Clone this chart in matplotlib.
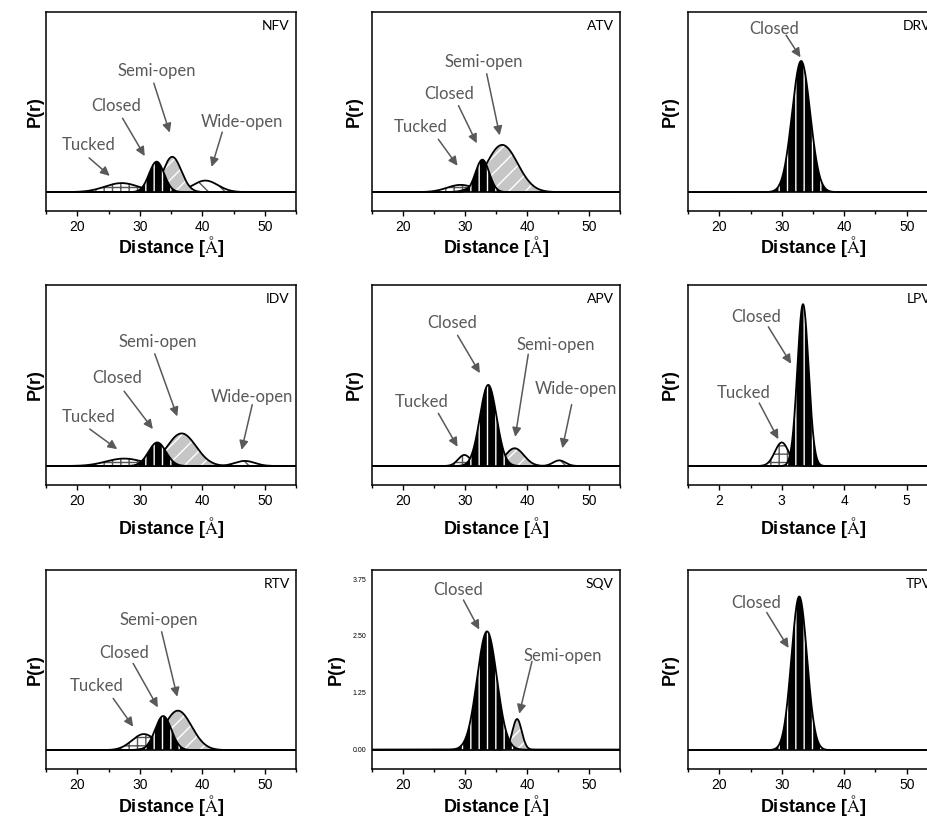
import numpy as np
import matplotlib.pyplot as plt
from matplotlib.ticker import MultipleLocator

plt.rcParams['font.family'] = ['Liberation Sans', 'DejaVu Sans']
plt.rcParams['mathtext.fontset'] = 'stix'
plt.rcParams['hatch.linewidth'] = 1.0

# one panel per inhibitor, row by row
drugs = ['NFV', 'ATV', 'DRV', 'IDV', 'APV', 'LPV', 'RTV', 'SQV', 'TPV']
states = ['Tucked', 'Closed', 'Semi-open', 'Wide-open']

# gaussian populations: centre, peak height, sigma (None = state not populated)
centres = [
    [27.1, 32.7, 35.2, 40.5],
    [29.3, 32.8, 36.0, None],
    [None, 33.1, None, None],
    [27.5, 32.8, 36.7, 46.8],
    [29.9, 33.75, 38.0, 45.2],
    [3.0, 3.34, None, None],
    [30.65, 33.75, 36.1, None],
    [None, 33.55, 38.4, None],
    [None, 32.8, None, None],
]
heights = [
    [0.05, 0.169, 0.196, 0.064],
    [0.04, 0.18, 0.262, None],
    [None, 0.728, None, None],
    [0.041, 0.13, 0.18, 0.028],
    [0.061, 0.448, 0.098, 0.031],
    [0.13, 0.894, None, None],
    [0.089, 0.189, 0.219, None],
    [None, 2.6, 0.674, None],
    [None, 0.853, None, None],
]
sigmas = [
    [2.7, 1.2, 1.45, 2.0],
    [2.2, 1.1, 2.5, None],
    [None, 1.45, None, None],
    [2.9, 1.4, 2.3, 1.6],
    [1.0, 1.35, 1.5, 1.0],
    [0.11, 0.09, None, None],
    [1.9, 1.3, 2.2, None],
    [None, 1.6, 0.75, None],
    [None, 1.25, None, None],
]

# SQV is the only panel with a labelled P(r) axis
sqv_yticks = [0.0, 1.25, 2.50, 3.75]

# callouts: (text, text centre, arrow tail, arrow head) in data coordinates
callouts = [
    [('Tucked', (21.8, 0.26), (21.9, 0.19), (25.2, 0.09)),
     ('Closed', (26.3, 0.477), (27.25, 0.41), (30.8, 0.20)),
     ('Semi-open', (32.7, 0.67), (32.25, 0.605), (34.8, 0.33)),
     ('Wide-open', (46.3, 0.39), (43.2, 0.333), (41.5, 0.14))],
    [('Tucked', (22.9, 0.363), (25.7, 0.293), (28.8, 0.146)),
     ('Closed', (27.4, 0.545), (28.95, 0.48), (31.9, 0.271)),
     ('Semi-open', (33.1, 0.724), (33.5, 0.657), (35.6, 0.315))],
    [('Closed', (28.8, 0.908), (30.7, 0.871), (33.0, 0.748))],
    [('Tucked', (21.9, 0.272), (22.0, 0.204), (26.4, 0.093)),
     ('Closed', (26.45, 0.485), (27.5, 0.413), (32.1, 0.204)),
     ('Semi-open', (32.9, 0.685), (32.4, 0.62), (36.0, 0.274)),
     ('Wide-open', (47.9, 0.383), (48.0, 0.339), (46.3, 0.089))],
    [('Tucked', (23.0, 0.352), (25.7, 0.291), (28.8, 0.106)),
     ('Closed', (27.9, 0.791), (28.8, 0.722), (32.4, 0.513)),
     ('Semi-open', (44.7, 0.667), (40.2, 0.617), (38.1, 0.161)),
     ('Wide-open', (47.9, 0.426), (47.2, 0.339), (45.7, 0.098))],
    [('Tucked', (2.385, 0.402), (2.64, 0.348), (2.945, 0.148)),
     ('Closed', (2.59, 0.824), (2.785, 0.769), (3.15, 0.565))],
    [('Tucked', (23.1, 0.356), (25.75, 0.287), (28.95, 0.13)),
     ('Closed', (27.5, 0.541), (28.95, 0.481), (32.9, 0.237)),
     ('Semi-open', (33.1, 0.722), (33.5, 0.657), (36.0, 0.296))],
    [('Closed', (28.9, 3.51), (29.75, 3.29), (32.3, 2.64)),
     ('Semi-open', (45.8, 2.06), (40.8, 1.94), (38.75, 0.79))],
    [('Closed', (25.9, 0.816), (27.6, 0.764), (31.1, 0.567))],
]

# fill / hatch per conformational state
fills = {
    'Tucked': ('white', '#555555', '++'),
    'Closed': ('black', 'white', '||'),
    'Semi-open': ('#c6c6c6', 'white', '//'),
    'Wide-open': ('white', '#555555', '\\\\'),
}
# closed population is drawn on top of the others
draw_order = ['Tucked', 'Wide-open', 'Semi-open', 'Closed']

W, H = 928, 822
fig = plt.figure(figsize=(W / 100, H / 100), dpi=100)

col_left = [46, 372, 688]
col_width = [250, 248, 250]
row_top = [12, 285, 570]
row_bottom = [211, 485, 769]
ylab_pad = [1.5, 6.5, 7.0]
xlab_pad = [0.0, 5.0, 1.0]

grey = '#595959'

for k, name in enumerate(drugs):
    r, c = divmod(k, 3)
    ax = fig.add_axes([col_left[c] / W, 1 - row_bottom[r] / H,
                       col_width[c] / W, (row_bottom[r] - row_top[r]) / H])

    if name == 'LPV':
        xmin, xmax, major = 1.5, 5.5, 1
    else:
        xmin, xmax, major = 15, 55, 10
    x = np.linspace(xmin, xmax, 1200)

    for z, st in enumerate(draw_order):
        i = states.index(st)
        mu = centres[k][i]
        if mu is None:
            continue
        y = heights[k][i] * np.exp(-(x - mu) ** 2 / (2 * sigmas[k][i] ** 2))
        fc, hc, hatch = fills[st]
        ax.fill_between(x, 0, y, facecolor=fc, edgecolor=hc, hatch=hatch,
                        linewidth=0, zorder=2 + 2 * z)
        ax.plot(x, y, color='black', lw=1.3, zorder=3 + 2 * z)

    ax.axhline(0, color='black', lw=1.2, zorder=20)

    for text, txy, tail, head in callouts[k]:
        ax.text(txy[0], txy[1], text, ha='center', va='center', color=grey,
                fontsize=12, family=['Lato', 'DejaVu Sans'], zorder=25)
        ax.annotate('', xy=head, xytext=tail,
                    arrowprops=dict(arrowstyle='-|>,head_length=0.45,head_width=0.22',
                                    color=grey, lw=1.1, mutation_scale=12,
                                    shrinkA=0, shrinkB=0), zorder=25)

    ax.annotate(name, xy=(1, 1), xycoords='axes fraction', xytext=(-4.5, -6),
                textcoords='offset points', ha='right', va='top', fontsize=10,
                family=['Lato', 'DejaVu Sans'], color='black')

    ax.set_xlim(xmin, xmax)
    ax.xaxis.set_major_locator(MultipleLocator(major))
    ax.xaxis.set_minor_locator(MultipleLocator(major / 2))
    ax.tick_params(axis='x', which='major', direction='out', length=3.5,
                   width=1, labelsize=10, pad=3, colors='black')
    ax.tick_params(axis='x', which='minor', direction='out', length=2.5, width=1)

    if name == 'SQV':
        ax.set_ylim(-0.424, 3.95)
        ax.set_yticks(sqv_yticks)
        ax.set_yticklabels(['%.2f' % v for v in sqv_yticks])
        ax.tick_params(axis='y', length=0, labelsize=5, pad=4)
        pad = 6
    else:
        ax.set_ylim(-0.105, 1.0)
        ax.set_yticks([])
        pad = ylab_pad[c]

    for sp in ax.spines.values():
        sp.set_linewidth(1.1)

    ax.set_xlabel(r'Distance [$\mathrm{\AA}$]', fontsize=13, fontweight='bold',
                  labelpad=xlab_pad[r])
    ax.set_ylabel('P(r)', fontsize=13, fontweight='bold', labelpad=pad)

fig.savefig('out.png', dpi=100, facecolor='white')
